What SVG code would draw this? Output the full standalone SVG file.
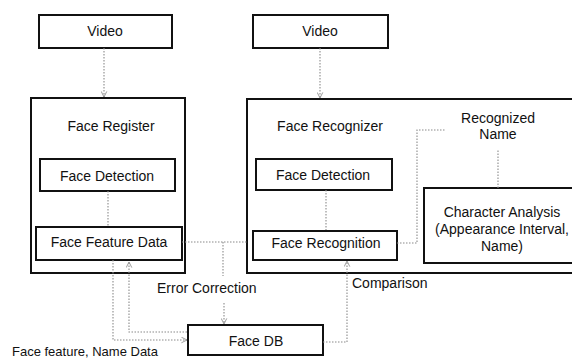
<svg xmlns="http://www.w3.org/2000/svg" width="572" height="360" viewBox="0 0 572 360">
<style>
.box{fill:#fff;stroke:#111;stroke-width:2}
.inner{fill:none;stroke:#111;stroke-width:2}
.t{font-family:"Liberation Sans",Arial,sans-serif;font-size:14px;fill:#111}
.c{text-anchor:middle}
.con{fill:none;stroke:#8a8a8a;stroke-width:1.1;stroke-dasharray:1.5 1.5}
</style>
<defs>
<marker id="ah" viewBox="0 0 10 10" refX="9" refY="5" markerWidth="7" markerHeight="7" orient="auto" markerUnits="userSpaceOnUse">
<path d="M1,1 L9,5 L1,9" fill="none" stroke="#8a8a8a" stroke-width="1.2"/>
</marker>
</defs>
<rect width="572" height="360" fill="#fff"/>
<g id="video1"><rect class="box" x="39" y="15" width="133" height="33"/><text class="t c" x="105" y="36">Video</text></g>
<g id="video2"><rect class="box" x="253" y="15" width="135" height="33"/><text class="t c" x="320" y="36">Video</text></g>
<g id="face-register">
<rect class="box" x="31" y="98" width="154" height="175"/>
<text class="t c" x="111" y="131">Face Register</text>
</g>
<g id="face-detection-1"><rect class="inner" x="40" y="159" width="135" height="32"/><text class="t c" x="107" y="181">Face Detection</text></g>
<g id="face-feature-data"><rect class="inner" x="36" y="227" width="146" height="33"/><text class="t c" x="109" y="247">Face Feature Data</text></g>
<g id="face-recognizer">
<rect class="box" x="247" y="99" width="340" height="174"/>
<text class="t c" x="330" y="131">Face Recognizer</text>
</g>
<g id="face-detection-2"><rect class="inner" x="256" y="159" width="136" height="31"/><text class="t c" x="323" y="180">Face Detection</text></g>
<g id="face-recognition"><rect class="inner" x="253" y="231" width="144" height="29"/><text class="t c" x="326" y="248">Face Recognition</text></g>
<g id="recognized-name"><text class="t c" x="498" y="123">Recognized</text><text class="t c" x="498" y="139">Name</text></g>
<g id="character-analysis"><rect class="inner" x="424" y="188" width="162" height="75"/>
<text class="t c" x="502" y="217">Character Analysis</text>
<text class="t c" x="502" y="234">(Appearance Interval,</text>
<text class="t c" x="502" y="251">Name)</text></g>
<g id="face-db"><rect class="box" x="188" y="325" width="135" height="30"/><text class="t c" x="256" y="346">Face DB</text></g>
<g id="connectors">
<path class="con" d="M104,48 V97" marker-end="url(#ah)"/>
<path class="con" d="M320,48 V98" marker-end="url(#ah)"/>
<path class="con" d="M108,191 V226"/>
<path class="con" d="M326,190 V230"/>
<path class="con" d="M397,243 H417 V130 H446"/>
<path class="con" d="M498,188 V150"/>
<path class="con" d="M182,242 H247"/>
<path class="con" d="M223,242 V276"/>
<path class="con" d="M224,303 V324" marker-end="url(#ah)"/>
<path class="con" d="M113,260 V340 H187" marker-end="url(#ah)"/>
<path class="con" d="M187,332 H129 V262" marker-end="url(#ah)"/>
<path class="con" d="M323,342 H347 V261" marker-end="url(#ah)"/>
</g>
<g id="labels">
<text class="t" x="157" y="293">Error Correction</text>
<text class="t" x="352" y="288">Comparison</text>
<text class="t" x="12" y="356" style="font-size:13px">Face feature, Name Data</text>
</g>
</svg>
